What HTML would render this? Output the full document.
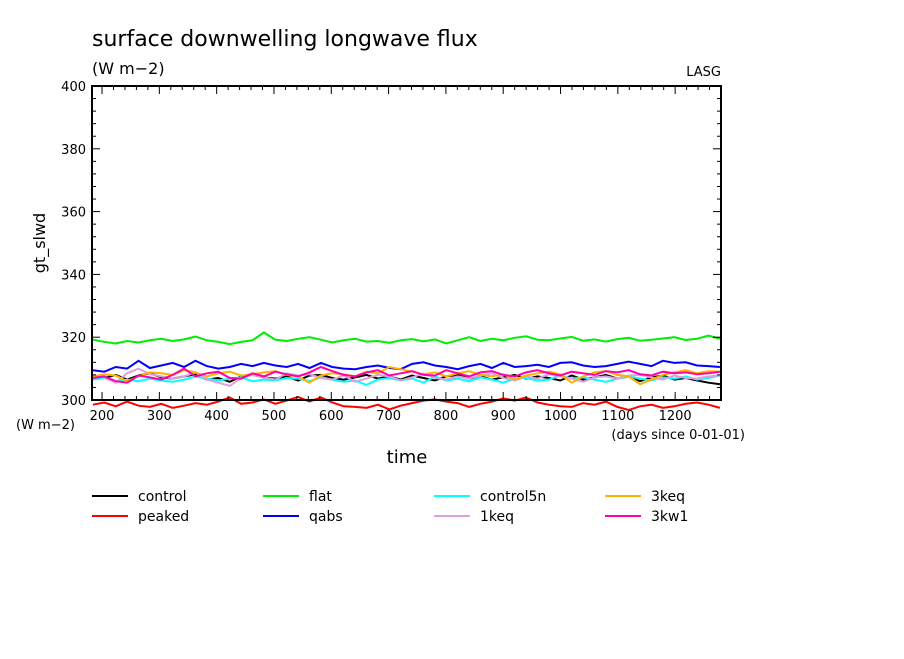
<!DOCTYPE html>
<html><head><meta charset="utf-8">
<style>
body{margin:0;background:#fff;}
svg text{font-family:"DejaVu Sans","Liberation Sans",sans-serif;}
</style></head>
<body>
<svg id="chart" width="904" height="654" viewBox="0 0 904 654" xmlns="http://www.w3.org/2000/svg">
<rect width="904" height="654" fill="#fff"/>
<text x="92" y="46" font-size="22">surface downwelling longwave flux</text>
<text x="92" y="74" font-size="16">(W m−2)</text>
<text x="721" y="76" font-size="13" text-anchor="end">LASG</text>
<text x="45" y="243" font-size="16" text-anchor="middle" transform="rotate(-90 45 243)">gt_slwd</text>
<text x="407" y="463" font-size="18" text-anchor="middle">time</text>
<text x="16" y="429" font-size="13">(W m−2)</text>
<text x="745" y="439" font-size="13" text-anchor="end">(days since 0-01-01)</text>
<g id="series"></g>
<g id="axes"></g>
<g id="legend"></g>
</svg>
<script>
const xTicks=[200,300,400,500,600,700,800,900,1000,1100,1200];
const yTicks=[300,320,340,360,380,400];
const seriesNames=["control","peaked","flat","qabs","control5n","1keq","3keq","3kw1"];
const seriesColors=["#000000","#ff0000","#00ee00","#0000ff","#00ffff","#dda0dd","#ffb000","#ff00aa"];
const control=[307.5,307.0,308.0,306.5,307.8,308.5,307.2,306.8,307.5,308.2,306.5,307.0,305.8,307.5,308.0,307.2,306.8,307.5,306.2,307.8,308.0,307.0,306.5,307.2,308.0,306.8,307.5,306.5,307.8,307.0,306.2,307.5,308.0,306.8,307.5,306.5,307.2,308.0,306.8,307.5,307.0,306.2,307.8,306.5,307.2,308.0,306.8,307.5,306.0,307.2,307.8,306.5,307.0,306.2,305.5,305.0];
const peaked=[298.5,299.2,298.0,299.5,298.2,297.8,298.8,297.5,298.2,299.0,298.5,299.5,300.8,298.8,299.2,300.2,298.8,299.8,301.0,299.5,300.8,299.2,298.0,297.8,297.5,298.5,297.0,298.2,299.0,299.8,300.2,299.5,299.0,297.8,298.8,299.5,300.5,299.8,300.8,299.2,298.5,298.0,297.8,299.0,298.5,299.5,297.8,296.8,298.0,298.5,297.5,298.0,298.8,299.2,298.5,297.5];
const flat=[319.2,318.5,318.0,318.8,318.3,319.0,319.5,318.8,319.3,320.2,319.0,318.5,317.8,318.5,319.0,321.5,319.2,318.8,319.5,320.0,319.2,318.3,319.0,319.5,318.6,318.8,318.2,319.0,319.4,318.7,319.3,318.0,319.0,320.0,318.8,319.5,319.0,319.8,320.3,319.2,319.0,319.6,320.1,318.9,319.3,318.6,319.4,319.8,318.9,319.2,319.6,320.0,319.1,319.5,320.5,319.5];
const qabs=[309.5,309.0,310.5,310.0,312.5,310.2,311.0,311.8,310.5,312.5,310.8,310.0,310.5,311.5,310.8,311.8,311.0,310.5,311.5,310.2,311.8,310.5,310.0,309.8,310.5,311.0,310.2,309.8,311.5,312.0,311.0,310.5,309.8,310.8,311.5,310.2,311.8,310.5,310.8,311.2,310.5,311.8,312.0,311.0,310.5,310.8,311.5,312.2,311.5,310.8,312.5,311.8,312.0,311.0,310.8,310.5];
const control5n=[306.5,307.0,305.8,306.5,306.0,306.8,306.2,305.8,306.5,307.5,306.8,306.2,306.8,307.2,306.0,306.5,306.2,307.0,306.8,306.0,307.2,306.5,305.8,306.2,304.8,306.5,307.0,306.2,306.8,305.5,307.5,306.2,306.8,306.0,307.2,306.5,305.5,306.8,307.0,306.2,306.5,307.8,306.8,307.2,306.5,305.8,306.8,307.5,306.8,306.2,307.2,306.8,307.5,306.5,307.0,307.8];
const keq1=[308.0,307.2,305.5,308.5,310.0,308.2,307.5,306.8,307.5,308.8,306.5,305.5,304.5,307.0,308.0,307.2,306.5,308.5,307.8,308.2,307.0,306.5,307.8,305.8,306.8,308.0,307.5,306.2,307.2,308.5,307.0,306.5,307.5,306.8,307.8,308.5,307.0,306.2,307.5,306.8,308.2,307.5,306.8,305.8,307.2,307.5,306.8,307.8,308.0,307.2,306.5,307.8,307.0,306.8,307.5,307.8];
const keq3=[307.5,308.2,307.8,306.0,307.5,308.8,308.5,308.0,309.5,308.8,307.5,308.5,309.0,307.8,308.2,308.8,309.2,308.0,307.5,305.5,307.8,308.5,308.2,307.5,309.0,308.5,310.5,309.8,309.0,308.2,308.8,307.5,308.5,309.2,308.0,307.5,308.2,306.5,307.8,308.5,309.0,308.2,305.5,307.5,308.8,309.2,308.0,307.5,305.0,306.5,308.0,308.8,309.5,308.5,309.2,309.0];
const kw13=[307.0,307.5,306.0,305.5,307.8,307.2,306.5,308.0,310.0,307.5,308.5,309.0,307.0,306.8,308.5,307.5,309.0,308.2,307.5,308.8,310.5,309.2,308.0,307.5,308.8,309.5,307.8,308.5,309.2,308.0,307.8,309.5,308.5,307.5,308.8,309.2,308.0,307.5,308.8,309.5,308.5,307.8,309.0,308.5,308.0,309.2,308.8,309.5,308.2,307.8,309.0,308.5,308.8,308.2,308.5,309.0];
const seriesValues=[control,peaked,flat,qabs,control5n,keq1,keq3,kw13];
const drawOrder=[2,3,0,4,5,6,7,1];
const X0=92,X1=721,Y0=400,Y1=86;
const dayMin=182.5,dayMax=1280,vMin=300,vMax=400;
const dayStart=184,dayEnd=1278;
function xs(d){return X0+(d-dayMin)/(dayMax-dayMin)*(X1-X0);}
function ys(v){return Y0-(v-vMin)/(vMax-vMin)*(Y0-Y1);}
const NS="http://www.w3.org/2000/svg";
const sg=document.getElementById('series');
drawOrder.forEach(k=>{
  const vals=seriesValues[k];const n=vals.length;
  const pts=vals.map((v,i)=>xs(dayStart+i*(dayEnd-dayStart)/(n-1)).toFixed(1)+','+ys(v).toFixed(1)).join(' ');
  const p=document.createElementNS(NS,'polyline');
  p.setAttribute('points',pts);p.setAttribute('fill','none');
  p.setAttribute('stroke',seriesColors[k]);p.setAttribute('stroke-width','2');
  
  
  sg.appendChild(p);
});
const ag=document.getElementById('axes');
function line(x1,y1,x2,y2,w){const l=document.createElementNS(NS,'line');l.setAttribute('x1',x1);l.setAttribute('y1',y1);l.setAttribute('x2',x2);l.setAttribute('y2',y2);l.setAttribute('stroke','#000');l.setAttribute('stroke-width',w);


ag.appendChild(l);}
function text(x,y,s,anchor,size,name){const t=document.createElementNS(NS,'text');t.setAttribute('x',x);t.setAttribute('y',y);t.setAttribute('text-anchor',anchor);t.setAttribute('font-size',size);t.textContent=s;


ag.appendChild(t);}
const fr=document.createElementNS(NS,'rect');
fr.setAttribute('x',X0);fr.setAttribute('y',Y1);fr.setAttribute('width',X1-X0);fr.setAttribute('height',Y0-Y1);fr.setAttribute('fill','none');fr.setAttribute('stroke','#000');fr.setAttribute('stroke-width','2');


ag.appendChild(fr);
for(let d=200;d<=1280;d+=20){const x=xs(d);const maj=(d%100===0);const L=maj?8:4;
  line(x,Y0,x,Y0-L,1);line(x,Y1,x,Y1+L,1);}
xTicks.forEach(d=>text(xs(d),Y0+20,String(d),'middle',13,'x-tick-label'));
for(let v=300;v<=400;v+=4){const y=ys(v);const maj=(v%20===0);const L=maj?8:4;
  line(X0,y,X0+L,y,1);line(X1,y,X1-L,y,1);}
yTicks.forEach(v=>text(X0-6,ys(v)+5,String(v),'end',13,'y-tick-label'));
const lg=document.getElementById('legend');
const legendOrder=[0,2,4,6,1,3,5,7];
legendOrder.forEach((k,j)=>{
  const col=j%4,row=Math.floor(j/4);
  const x=92+col*171,y=496+row*20;
  const g=document.createElementNS(NS,'g');
  
  
  const l=document.createElementNS(NS,'line');l.setAttribute('x1',x);l.setAttribute('x2',x+36);l.setAttribute('y1',y);l.setAttribute('y2',y);l.setAttribute('stroke',seriesColors[k]);l.setAttribute('stroke-width','2');
  const t=document.createElementNS(NS,'text');t.setAttribute('x',x+46);t.setAttribute('y',y+5);t.setAttribute('font-size','14');t.textContent=seriesNames[k];
  g.appendChild(l);g.appendChild(t);lg.appendChild(g);
});
</script>
</body></html>
